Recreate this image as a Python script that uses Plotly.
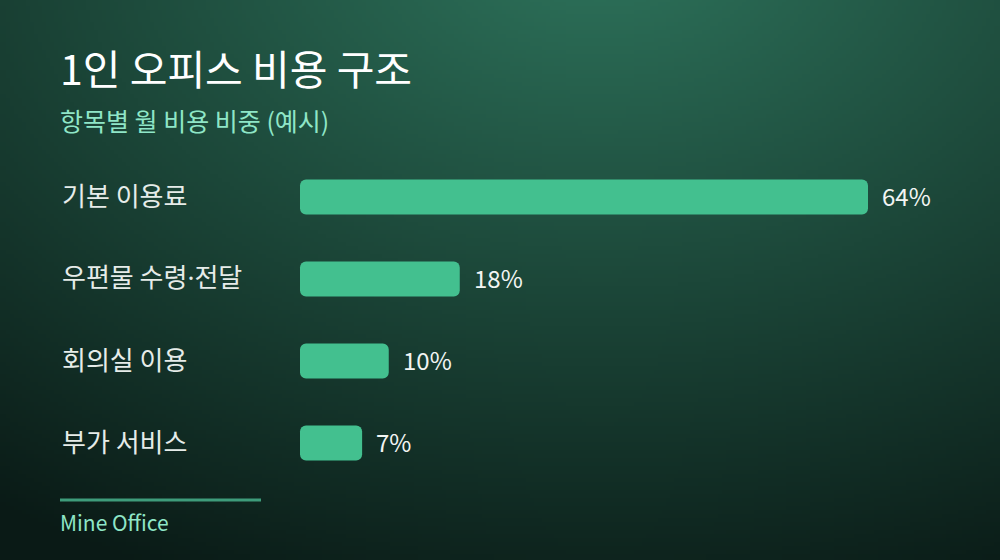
import base64
import struct
import zlib

import numpy as np
import plotly.graph_objects as go

# 데이터
categories = ["기본 이용료", "우편물 수령·전달", "회의실 이용", "부가 서비스"]
shares = [64, 18, 10, 7]
value_labels = ["64%", "18%", "10%", "7%"]

title_text = "1인 오피스 비용 구조"
subtitle_text = "항목별 월 비용 비중 (예시)"
footer_text = "Mine Office"

FONT = "Noto Sans CJK KR"
BAR_COLOR = "#43c08f"
MINT = "#8fe6c7"

W, H = 1000, 560


# 배경 그라디언트 PNG 만들기 (방사형)
def gradient_png(w=250, h=140):
    xs = (np.arange(w) + 0.5) * W / w
    ys = (np.arange(h) + 0.5) * H / h
    X, Y = np.meshgrid(xs, ys)
    t = np.sqrt(((X - 600) / 1050) ** 2 + ((Y + 60) / 700) ** 2)
    t = np.clip(t, 0, 1)
    c0 = np.array([46, 116, 92])
    c1 = np.array([10, 26, 22])
    img = (c0[None, None, :] * (1 - t[..., None]) + c1[None, None, :] * t[..., None]).astype(np.uint8)
    raw = b"".join(b"\x00" + img[r].tobytes() for r in range(h))

    def chunk(tag, data):
        c = struct.pack(">I", len(data)) + tag + data
        return c + struct.pack(">I", zlib.crc32(tag + data) & 0xFFFFFFFF)

    png = b"\x89PNG\r\n\x1a\n"
    png += chunk(b"IHDR", struct.pack(">IIBBBBB", w, h, 8, 2, 0, 0, 0))
    png += chunk(b"IDAT", zlib.compress(raw, 9))
    png += chunk(b"IEND", b"")
    return "data:image/png;base64," + base64.b64encode(png).decode()


# 축 스케일: 0% -> x=300px, 1% = 8.875px
px_per_unit = 8.875
x0_px = 300
x_range = [-x0_px / px_per_unit, (W - x0_px) / px_per_unit]

# 막대 중심 y=197px, 간격 82px
row_gap = 82
first_row = 197
y_pos = list(range(len(categories)))
y_range = [(H - first_row) / row_gap, -first_row / row_gap]
bar_w = 35 / row_gap

fig = go.Figure()

# base를 명시하면 막대 양쪽 모서리가 모두 둥글게 그려짐
fig.add_trace(go.Bar(
    x=shares, base=[0] * len(shares), y=y_pos, orientation="h",
    marker=dict(color=BAR_COLOR, cornerradius=6, line=dict(width=0)),
    width=bar_w, hoverinfo="skip",
))

annotations = []
# 항목 이름 (가운뎃점은 폭이 좁은 글꼴로)
for i, cat in enumerate(categories):
    label = cat.replace("·", '<span style="font-family:Noto Sans">·</span>')
    annotations.append(dict(
        x=0.06, xref="paper", y=y_pos[i], yref="y", text=label,
        showarrow=False, xanchor="left", yanchor="middle", yshift=3,
        font=dict(family=FONT, size=26, color="#e6ece9"),
    ))
# 값 레이블
for i, v in enumerate(shares):
    annotations.append(dict(
        x=v, xref="x", y=y_pos[i], yref="y", text=value_labels[i],
        showarrow=False, xanchor="left", yanchor="middle", xshift=12, yshift=2,
        font=dict(family=FONT, size=24, color="#f2f5f3"),
    ))
# 제목, 부제, 푸터
annotations.append(dict(
    x=0.058, xref="paper", y=1 - 69 / H, yref="paper", text=title_text,
    showarrow=False, xanchor="left", yanchor="middle", yshift=2,
    font=dict(family=FONT, size=41, color="#ffffff"),
))
annotations.append(dict(
    x=0.058, xref="paper", y=1 - 122 / H, yref="paper", text=subtitle_text,
    showarrow=False, xanchor="left", yanchor="middle", yshift=2,
    font=dict(family=FONT, size=25, color=MINT),
))
annotations.append(dict(
    x=0.058, xref="paper", y=1 - 522 / H, yref="paper", text=footer_text,
    showarrow=False, xanchor="left", yanchor="middle",
    font=dict(family=FONT, size=21, color=MINT),
))

fig.update_layout(
    width=W, height=H,
    margin=dict(l=0, r=0, t=0, b=0),
    paper_bgcolor="#112b24",
    plot_bgcolor="rgba(0,0,0,0)",
    showlegend=False,
    xaxis=dict(range=x_range, visible=False, fixedrange=True),
    yaxis=dict(range=y_range, visible=False, fixedrange=True),
    annotations=annotations,
    shapes=[dict(
        type="line", xref="paper", yref="paper",
        x0=0.06, x1=0.261, y0=1 - 500 / H, y1=1 - 500 / H,
        line=dict(color="#3e9c7b", width=3),
    )],
    images=[dict(
        source=gradient_png(), xref="paper", yref="paper",
        x=0, y=1, sizex=1, sizey=1, xanchor="left", yanchor="top",
        sizing="stretch", layer="below",
    )],
)

fig.write_html(
    "out.html",
    config={"displayModeBar": False},
    post_script="document.body.style.margin='0';",
)
